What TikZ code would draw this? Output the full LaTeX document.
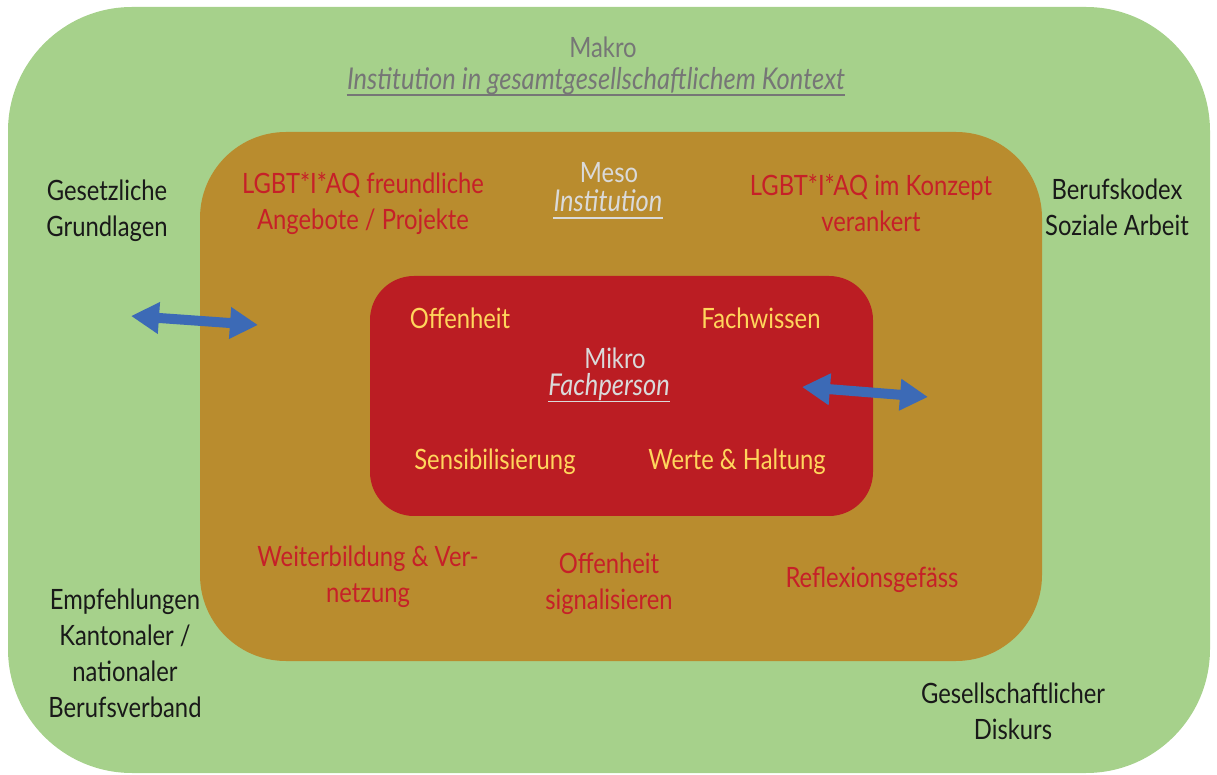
\documentclass[tikz,border=0pt]{standalone}
\usepackage{fontspec}
\setmainfont{Lato}[FakeStretch=0.85]
\usetikzlibrary{arrows.meta, positioning}
\definecolor{makrocolor}{RGB}{166,209,139}
\definecolor{mesocolor}{RGB}{185,140,46}
\definecolor{mikrocolor}{RGB}{187,29,35}
\definecolor{arrowcolor}{RGB}{60,106,182}
\definecolor{mesotext}{RGB}{198,32,40}
\definecolor{mikrotext}{RGB}{255,214,92}
\definecolor{labelgray}{RGB}{118,118,118}
\definecolor{labellight}{RGB}{218,218,218}
\tikzset{
  level/.style   = {rectangle, rounded corners=#1, inner sep=0pt, draw=none},
  txt/.style     = {inner sep=0pt, align=center, font=\fontsize{14}{18}\selectfont},
  ctxt/.style    = {txt, text=black!90},
  mesotxt/.style = {txt, text=mesotext},
  mikrotxt/.style= {txt, text=mikrotext},
  subtxt/.style  = {txt, font=\fontsize{15}{18}\selectfont\itshape},
  uline/.style   = {line width=0.9pt},
  dblarrow/.style= {{Triangle[length=14pt,width=15pt]}-{Triangle[length=14pt,width=15pt]},
                    line width=5pt, color=arrowcolor},
}

\begin{document}
\begin{tikzpicture}[x=0.5pt, y=-0.5pt]
  \useasboundingbox (0,0) rectangle (1217,775);
  % three nested levels
  \node[level=62pt, fill=makrocolor, minimum width=601pt, minimum height=383pt] (makro) at (609,390) {};
  \node[level=43pt, fill=mesocolor, minimum width=421pt, minimum height=264.5pt] (meso) at (621,396.5) {};
  \node[level=22pt, fill=mikrocolor, minimum width=251.5pt, minimum height=120pt] (mikro) at (621.5,396) {};

  % level titles
  \node[txt, text=labelgray] (makrotitle) at (603,47) {Makro};
  \node[subtxt, text=labelgray] (makrosub) at (596,81) {Institution in gesamtgesellschaftlichem Kontext};
  \node[txt, text=labellight] (mesotitle) at (609,173) {Meso};
  \node[subtxt, text=labellight] (mesosub) at (608,201) {Institution};
  \node[txt, text=labellight] (mikrotitle) at (615,358) {Mikro};
  \node[subtxt, text=labellight] (mikrosub) at (609,387) {Fachperson};
  \draw[uline, labelgray] ([yshift=-3pt]makrosub.base west) -- ([yshift=-3pt]makrosub.base east);
  \draw[uline, labellight] ([yshift=-3pt]mesosub.base west) -- ([yshift=-3pt]mesosub.base east);
  \draw[uline, labellight] ([yshift=-3pt]mikrosub.base west) -- ([yshift=-3pt]mikrosub.base east);

  % context factors
  \foreach \n/\x/\y/\t in {gesetz/107/211/{Gesetzliche\\Grundlagen},
                           kodex/1117/207/{Berufskodex\\Soziale Arbeit},
                           verband/125/653.5/{Empfehlungen\\Kantonaler /\\nationaler\\Berufsverband},
                           diskurs/1013/711.5/{Gesellschaftlicher\\Diskurs}}
    \node[ctxt] (\n) at (\x,\y) {\t};

  % institution
  \foreach \n/\x/\y/\t in {angebote/363/203.5/{LGBT*I*AQ freundliche\\Angebote / Projekte},
                           konzept/871/203/{LGBT*I*AQ im Konzept\\verankert},
                           weiterbildung/368/577/{Weiterbildung \& Ver-\\netzung},
                           signal/609/583.5/{Offenheit\\signalisieren},
                           reflexion/872/580/{Reflexionsgefäss}}
    \node[mesotxt] (\n) at (\x,\y) {\t};

  % person
  \foreach \n/\x/\y/\t in {offen/460/318/{Offenheit},
                           wissen/761/318/{Fachwissen},
                           sensib/495/462/{Sensibilisierung},
                           haltung/737/462/{Werte \& Haltung}}
    \node[mikrotxt] (\n) at (\x,\y) {\t};

  % exchange between levels
  \coordinate (l1) at (131,316);
  \coordinate (l2) at (258,325);
  \coordinate (r1) at (802,387);
  \coordinate (r2) at (928,397);
  \draw[dblarrow] (l1) -- (l2);
  \draw[dblarrow] (r1) -- (r2);
\end{tikzpicture}
\end{document}
